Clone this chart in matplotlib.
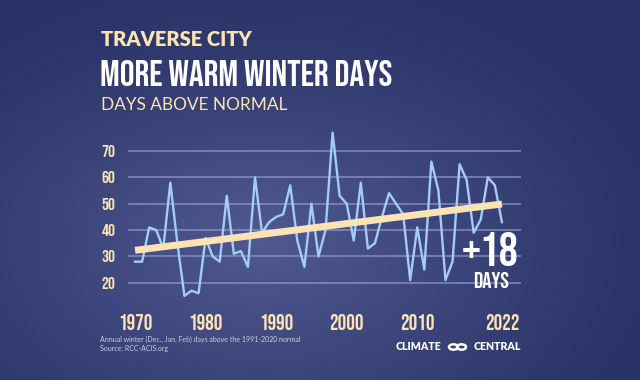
import matplotlib.pyplot as plt
import numpy as np
from matplotlib.patches import Circle

years = list(range(1970, 2023))
days_above = [28, 28, 41, 40, 33, 58, 35, 15, 17, 16,
              37, 30, 28, 53, 31, 32, 26, 60, 39, 43,
              45, 46, 57, 36, 26, 50, 30, 40, 77, 53,
              50, 36, 58, 33, 35, 45, 54, 50, 46, 21,
              41, 25, 66, 55, 21, 28, 65, 59, 39, 44,
              60, 57, 43]
trend_start, trend_end = 32.3, 49.9
yticks = [20, 30, 40, 50, 60, 70]
xticks = [1970, 1980, 1990, 2000, 2010, 2022]

cream = '#fbe3b4'
line_blue = '#a3cdf6'
cond = ['Bebas Neue', 'Oswald', 'DejaVu Sans']
sans = ['Lato', 'DejaVu Sans']

fig = plt.figure(figsize=(6.4, 3.8), dpi=100)

# background: navy with a lighter foggy patch
h, w = 380, 640
yy, xx = np.mgrid[0:h, 0:w]
dark = np.array([0x2a, 0x33, 0x68]) / 255
light = np.array([0x50, 0x5a, 0x90]) / 255
r = np.sqrt(((xx - 260) / 400) ** 2 + ((yy - 240) / 270) ** 2)
t = np.clip(1 - r, 0, 1) ** 1.1
t = t * (0.6 + 0.4 * np.clip(yy / 180, 0, 1))
img = dark[None, None, :] * (1 - t[..., None]) + light[None, None, :] * t[..., None]
bg = fig.add_axes([0, 0, 1, 1])
bg.imshow(img, aspect='auto', extent=[0, 1, 0, 1])
bg.axis('off')

ax = fig.add_axes([0.2, 0.2005, 0.614, 0.4713])
ax.patch.set_alpha(0)
for v in yticks:
    ax.axhline(v, color='#9aa2cf', lw=1.1, alpha=0.75, zorder=1)
ax.plot(years, days_above, color=line_blue, lw=1.7, zorder=3)
ax.plot([years[0], years[-1]], [trend_start, trend_end], color=cream,
        lw=5, solid_capstyle='butt', zorder=4)

ax.set_xlim(1969.0, 2024.7)
ax.set_ylim(12, 80)
ax.set_yticks(yticks)
ax.set_yticklabels([str(v) for v in yticks], family=cond, fontsize=12.5, color=cream)
ax.set_xticks(xticks)
ax.set_xticklabels([str(v) for v in xticks], family=cond, fontsize=15.5, color=cream)
ax.tick_params(axis='y', length=0, pad=9)
ax.tick_params(axis='x', length=0, pad=7)
for s in ax.spines.values():
    s.set_visible(False)

ax.text(2024.4, 33, '+18', family=cond, fontsize=34,
        color='white', ha='right', va='center', zorder=5)
ax.text(2020.5, 21, 'DAYS', family=cond, fontsize=16.5,
        color='white', ha='center', va='center', zorder=5)

# titles
fig.text(101 / 640, 1 - 39.5 / 380, 'TRAVERSE CITY', family=sans, fontweight='heavy',
         fontsize=14.5, color=cream, va='center')
fig.text(100 / 640, 1 - 72.5 / 380, 'MORE WARM WINTER DAYS', family=cond,
         fontsize=26.5, color='white', va='center')
fig.text(101 / 640, 1 - 105.5 / 380, 'DAYS ABOVE NORMAL', family=sans,
         fontsize=12.4, color=cream, va='center')

fig.text(100 / 640, 1 - 339.5 / 380,
         'Annual winter (Dec., Jan, Feb) days above the 1991-2020 normal',
         family=sans, fontsize=5, color='#c9cde3', va='center')
fig.text(100 / 640, 1 - 348.5 / 380, 'Source: RCC-ACIS.org',
         family=sans, fontsize=5, color='#c9cde3', va='center')

# Climate Central logo
fig.text(396 / 640, 1 - 347 / 380, 'CLIMATE', family=sans, fontweight='heavy',
         fontsize=7.6, color='white', va='center')
fig.text(521 / 640, 1 - 347 / 380, 'CENTRAL', family=sans, fontweight='heavy',
         fontsize=7.6, color='white', va='center', ha='right')
for cx in (453.5, 461.5):
    bg.add_patch(Circle((cx / 640, 1 - 347 / 380), 4.5 / 640, transform=bg.transAxes,
                        fill=False, ec='white', lw=1.8))

fig.savefig('out.png', dpi=100)
